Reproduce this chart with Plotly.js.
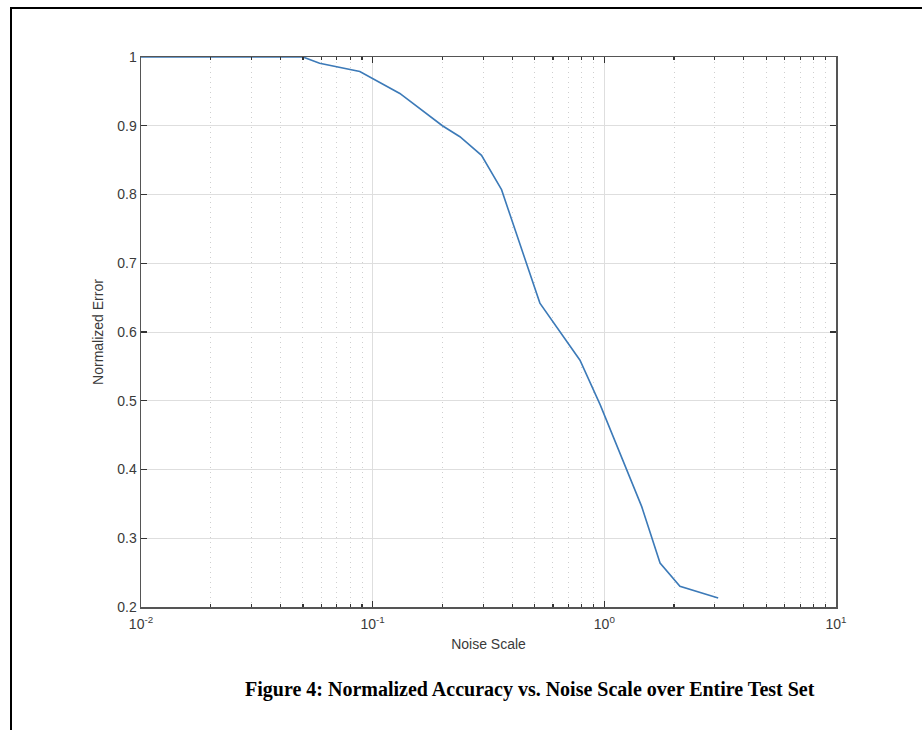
<!DOCTYPE html>
<html>
<head>
<meta charset="utf-8">
<script src="https://cdn.plot.ly/plotly-3.0.1.min.js"></script>
<style>
  html, body { margin: 0; padding: 0; background: #fff; }
  #frame { position: absolute; left: 10px; top: 7px; width: 1000px; height: 1000px;
           border-left: 2px solid #000; border-top: 2px solid #000; box-sizing: border-box; }
  #chart { position: absolute; left: 0; top: 0; width: 922px; height: 730px; }
</style>
</head>
<body>
<div id="frame"></div>
<div id="chart"></div>
<script>
// Data
const noiseScale = [0.01, 0.05, 0.059, 0.088, 0.131, 0.16, 0.2, 0.238, 0.295, 0.36, 0.527, 0.785, 0.96, 1.45, 1.74, 2.12, 3.1];
const normError  = [1.0, 1.0, 0.991, 0.979, 0.947, 0.925, 0.9, 0.884, 0.857, 0.807, 0.642, 0.559, 0.494, 0.346, 0.264, 0.23, 0.213];

const xTickVals = [0.01, 0.1, 1, 10];
const xTickText = ['10<sup>-2</sup>', '10<sup>-1</sup>', '10<sup>0</sup>', '10<sup>1</sup>'];
const xMinorVals = [0.02,0.03,0.04,0.05,0.06,0.07,0.08,0.09,
                    0.2,0.3,0.4,0.5,0.6,0.7,0.8,0.9,
                    2,3,4,5,6,7,8,9];
const yTickVals = [0.2, 0.3, 0.4, 0.5, 0.6, 0.7, 0.8, 0.9, 1];
const yTickText = ['0.2', '0.3', '0.4', '0.5', '0.6', '0.7', '0.8', '0.9', '1'];

const captionText = 'Figure 4: Normalized Accuracy vs. Noise Scale over Entire Test Set';

const axisFont = {family: 'Liberation Sans, Arial, sans-serif', size: 14, color: '#3a3a3a'};

const trace = {
  x: noiseScale, y: normError, type: 'scatter', mode: 'lines',
  line: {color: '#3c7ab8', width: 1.6}, hoverinfo: 'skip'
};

const layout = {
  width: 922, height: 730,
  margin: {l: 141, r: 86, t: 57, b: 123},
  paper_bgcolor: 'rgba(0,0,0,0)', plot_bgcolor: '#fff',
  showlegend: false,
  font: axisFont,
  xaxis: {
    type: 'log', range: [-2, 1],
    tickmode: 'array', tickvals: xTickVals, ticktext: xTickText,
    ticks: 'inside', ticklen: 6, tickwidth: 1.2, tickcolor: '#333',
    ticklabelstandoff: 4,
    showline: true, linecolor: '#555', linewidth: 1.5, mirror: 'allticks',
    showgrid: true, gridcolor: '#dedede', gridwidth: 1,
    minor: {tickmode: 'array', tickvals: xMinorVals, ticks: 'inside', ticklen: 3,
            tickcolor: '#333', showgrid: true, gridcolor: '#cfcfcf', griddash: '1px,4px', gridwidth: 1},
    zeroline: false, tickfont: axisFont,
    title: {text: 'Noise Scale', font: axisFont, standoff: 8}
  },
  yaxis: {
    range: [0.2, 1],
    tickmode: 'array', tickvals: yTickVals, ticktext: yTickText,
    ticks: 'inside', ticklen: 6, tickwidth: 1.2, tickcolor: '#333',
    showline: true, linecolor: '#555', linewidth: 1.5, mirror: 'allticks',
    showgrid: true, gridcolor: '#dedede', gridwidth: 1,
    zeroline: false, tickfont: axisFont,
    title: {text: 'Normalized Error', font: axisFont, standoff: 10}
  },
  annotations: [{
    text: '<b>' + captionText + '</b>',
    xref: 'paper', yref: 'paper', x: 0.56, y: -0.15,
    xanchor: 'center', yanchor: 'middle', showarrow: false,
    font: {family: 'Liberation Serif, Times New Roman, serif', size: 20, color: '#000'}
  }]
};

Plotly.newPlot('chart', [trace], layout, {staticPlot: true, displayModeBar: false});
</script>
</body>
</html>
